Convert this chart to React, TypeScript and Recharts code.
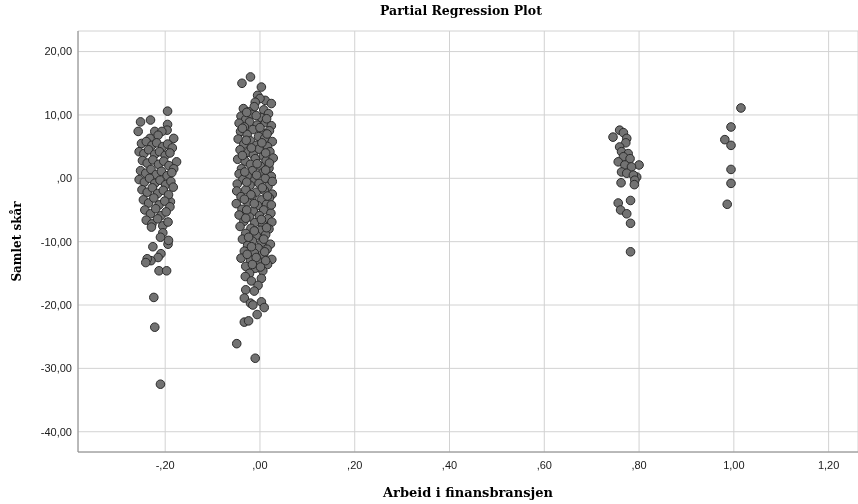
import React from 'react';
import { ScatterChart, Scatter, XAxis, YAxis, CartesianGrid, Label } from 'recharts';

// residual pairs [x, y], grouped by cluster
const leftGroup = [
  [-0.195, 10.6], [-0.252, 8.9], [-0.231, 9.2], [-0.257, 7.4], [-0.195, 8.5], [-0.196, 7.6],
  [-0.182, 6.3], [-0.222, 7.4], [-0.207, 7.4], [-0.215, 6.8], [-0.232, 6.3], [-0.176, 2.6], [-0.189, -3.7],
  [-0.25, 5.5], [-0.24, 5.8], [-0.228, 5.2], [-0.218, 5.6], [-0.205, 5.0], [-0.195, 5.4], [-0.185, 4.8],
  [-0.255, 4.2], [-0.245, 3.9], [-0.235, 4.5], [-0.222, 3.8], [-0.212, 4.2], [-0.2, 3.6], [-0.19, 4.0],
  [-0.248, 2.8], [-0.238, 2.4], [-0.226, 2.9], [-0.214, 2.2], [-0.203, 2.7], [-0.192, 2.0], [-0.182, 1.5],
  [-0.252, 1.2], [-0.241, 0.8], [-0.23, 1.4], [-0.219, 0.6], [-0.208, 1.1], [-0.196, 0.4], [-0.186, 0.9],
  [-0.255, -0.2], [-0.244, -0.6], [-0.233, 0.0], [-0.222, -0.8], [-0.211, -0.3], [-0.199, -1.0], [-0.188, -0.5],
  [-0.249, -1.8], [-0.238, -2.2], [-0.227, -1.5], [-0.216, -2.4], [-0.204, -1.9], [-0.193, -2.6], [-0.183, -1.4],
  [-0.246, -3.4], [-0.235, -3.9], [-0.224, -3.1], [-0.213, -4.2], [-0.201, -3.6], [-0.19, -4.5],
  [-0.243, -5.0], [-0.231, -5.6], [-0.22, -4.8], [-0.209, -5.9], [-0.198, -5.3],
  [-0.24, -6.6], [-0.228, -7.2], [-0.216, -6.4], [-0.205, -7.5], [-0.194, -6.9],
  [-0.229, -7.7], [-0.205, -8.6], [-0.21, -9.3], [-0.194, -10.4], [-0.193, -9.8], [-0.226, -10.8],
  [-0.209, -11.9], [-0.215, -12.5], [-0.23, -13.0], [-0.238, -12.7], [-0.241, -13.3], [-0.213, -14.6],
  [-0.197, -14.6], [-0.224, -18.8], [-0.222, -23.5], [-0.21, -32.5],
];

const zeroGroup = [
  [-0.02, 16.0], [-0.038, 15.0], [0.003, 14.4], [-0.005, 13.1], [0.011, 12.3], [0.024, 11.8], [0.0, 12.6], [-0.01, 12.0],
  [-0.035, 11.0], [-0.012, 11.3], [0.008, 10.8], [-0.024, 10.5],
  [-0.04, 9.8], [-0.018, 10.1], [0.002, 9.6], [0.018, 10.2], [-0.03, 9.3],
  [-0.044, 8.7], [-0.022, 8.9], [-0.006, 8.4], [0.012, 8.8], [0.024, 8.3], [-0.033, 8.1],
  [-0.041, 7.4], [-0.015, 7.7], [0.004, 7.2], [0.02, 7.5], [-0.027, 6.9], [-0.003, 6.6],
  [-0.046, 6.2], [-0.02, 5.9], [0.01, 6.3], [0.026, 5.8], [-0.034, 5.4], [-0.008, 5.2], [0.016, 5.0],
  [-0.042, 4.5], [-0.025, 4.1], [-0.002, 4.6], [0.021, 4.2], [-0.014, 3.7], [0.007, 3.5],
  [-0.047, 3.0], [-0.031, 2.7], [-0.01, 3.1], [0.013, 2.8], [0.028, 3.2], [-0.02, 2.2], [0.001, 1.9],
  [-0.039, 1.5], [-0.016, 1.2], [0.019, 1.6], [-0.044, 0.7], [-0.027, 0.4], [0.006, 0.9], [0.024, 0.3],
  [-0.036, -0.2], [-0.012, -0.4], [0.011, 0.0], [-0.048, -0.9], [-0.021, -1.1], [-0.002, -0.8], [0.017, -1.3],
  [-0.049, -2.0], [-0.03, -1.8], [-0.008, -2.2], [0.009, -1.9], [0.026, -2.5], [-0.04, -2.9], [-0.017, -3.0],
  [0.003, -3.4], [0.02, -3.1], [-0.05, -4.0], [-0.026, -3.8], [-0.005, -4.3], [0.014, -4.1],
  [-0.038, -4.9], [-0.014, -5.2], [0.008, -5.0], [0.023, -5.5], [-0.044, -5.8], [-0.022, -6.1], [-0.001, -5.9],
  [0.017, -6.4], [0.025, -6.9], [-0.034, -6.8], [-0.011, -7.0], [0.006, -7.3], [-0.042, -7.6], [-0.019, -7.9],
  [0.001, -8.2], [0.019, -8.0], [-0.03, -8.7], [-0.008, -9.0], [0.012, -8.9], [-0.037, -9.6], [-0.016, -9.9],
  [0.004, -10.1], [0.022, -10.4], [-0.026, -10.6], [-0.004, -11.0], [0.015, -11.2], [-0.033, -11.5], [-0.012, -11.8],
  [0.008, -12.1], [0.025, -12.8], [-0.04, -12.6], [-0.02, -12.9], [-0.001, -13.2], [0.016, -13.6],
  [-0.03, -13.9], [-0.01, -14.2], [0.006, -14.6], [-0.022, -15.0],
  [-0.028, 10.4], [0.014, 9.4], [-0.008, 9.9], [-0.037, 7.9], [0.0, 8.0], [0.015, 7.0], [-0.029, 6.0],
  [0.004, 5.6], [-0.018, 4.8], [0.012, 4.0], [-0.037, 3.6], [0.02, 2.4], [-0.006, 2.3], [-0.032, 1.0],
  [0.012, 1.3], [-0.007, 0.5], [0.026, -0.5], [-0.028, -0.6], [0.005, -1.5], [-0.019, -2.6], [0.016, -2.8],
  [-0.033, -3.3], [-0.012, -4.0], [0.024, -4.2], [-0.028, -5.0], [0.003, -6.5], [-0.03, -6.3], [0.014, -7.8],
  [-0.012, -8.3], [-0.024, -9.3], [0.008, -9.6], [-0.018, -10.8], [0.01, -11.6], [-0.027, -12.0],
  [-0.008, -12.5], [0.012, -13.0], [-0.016, -13.6], [0.001, -14.0],
  [-0.031, -15.5], [-0.018, -16.2], [0.003, -15.8], [-0.004, -16.9], [-0.03, -17.6], [-0.012, -17.8],
  [-0.033, -18.9], [-0.02, -19.7], [-0.015, -20.0], [0.003, -19.5], [0.009, -20.4], [-0.006, -21.5],
  [-0.033, -22.7], [-0.024, -22.5], [-0.049, -26.1], [-0.01, -28.4],
];

const eightyGroup = [
  [0.759, 7.6], [0.767, 7.2], [0.745, 6.5], [0.774, 6.3], [0.772, 5.6], [0.759, 4.95], [0.763, 4.2],
  [0.777, 3.9], [0.767, 3.4], [0.781, 3.1], [0.756, 2.6], [0.8, 2.1], [0.77, 2.1], [0.784, 1.8],
  [0.763, 1.0], [0.774, 0.8], [0.795, 0.2], [0.788, 0.5], [0.791, -0.3], [0.762, -0.7], [0.79, -1.0],
  [0.782, -3.5], [0.756, -3.9], [0.761, -5.0], [0.774, -5.6], [0.782, -7.1], [0.782, -11.6],
];

const oneGroup = [
  [1.015, 11.1], [0.994, 8.1], [0.981, 6.1], [0.994, 5.2], [0.994, 1.4], [0.994, -0.8], [0.986, -4.1],
];

const xTicks = [-0.2, 0, 0.2, 0.4, 0.6, 0.8, 1.0, 1.2];
const yTicks = [-40, -30, -20, -10, 0, 10, 20];

const toPoints = (arr: number[][]) => arr.map(([x, y]) => ({ x, y }));

// SPSS style: comma decimals, no leading zero
const fmt = (v: number) => {
  const s = Math.abs(v).toFixed(2).replace('.', ',').replace(/^0/, '');
  return (v < 0 ? '-' : '') + s;
};

const Dot = (props: any) => (
  <circle cx={props.cx} cy={props.cy} r={4.3} fill="#727272" stroke="#2b2b2b" strokeWidth={1} />
);

const serif = 'DejaVu Serif, Liberation Serif, serif';
const tickStyle = { fontFamily: 'Liberation Sans, Arial, sans-serif', fontSize: 11, fill: '#1a1a1a' };
const labelStyle = { fontFamily: serif, fontSize: 13, fontWeight: 'bold', fill: '#000' };

export default function App() {
  return (
    <div style={{ position: 'fixed', left: 0, top: 0, width: 858, height: 504, background: '#fff' }}>
      <div
        style={{
          position: 'absolute', left: 0, top: 3, width: 922, textAlign: 'center',
          fontFamily: serif, fontSize: 12.5, fontWeight: 'bold',
        }}
      >
        Partial Regression Plot
      </div>
      <ScatterChart width={858} height={504} margin={{ top: 31, right: 0, bottom: 32, left: 0 }}>
        <CartesianGrid stroke="#d2d2d2" />
        <XAxis
          type="number"
          dataKey="x"
          domain={[-0.384, 1.262]}
          ticks={xTicks}
          tickFormatter={fmt}
          allowDataOverflow
          stroke="#8a8a8a"
          tickLine={false}
          tickSize={0}
          tickMargin={9}
          tick={tickStyle}
          height={20}
        >
          <Label value="Arbeid i finansbransjen" position="bottom" offset={16} style={labelStyle} />
        </XAxis>
        <YAxis
          type="number"
          dataKey="y"
          domain={[-43.2, 23.25]}
          ticks={yTicks}
          tickFormatter={fmt}
          allowDataOverflow
          stroke="#8a8a8a"
          tickLine={false}
          tickSize={0}
          tickMargin={6}
          tick={tickStyle}
          width={78}
        >
          <Label value="Samlet skår" angle={-90} position="insideLeft" offset={17} style={{ ...labelStyle, fontSize: 12, textAnchor: 'middle' }} />
        </YAxis>
        <Scatter data={toPoints(leftGroup)} shape={Dot} isAnimationActive={false} />
        <Scatter data={toPoints(zeroGroup)} shape={Dot} isAnimationActive={false} />
        <Scatter data={toPoints(eightyGroup)} shape={Dot} isAnimationActive={false} />
        <Scatter data={toPoints(oneGroup)} shape={Dot} isAnimationActive={false} />
      </ScatterChart>
    </div>
  );
}
